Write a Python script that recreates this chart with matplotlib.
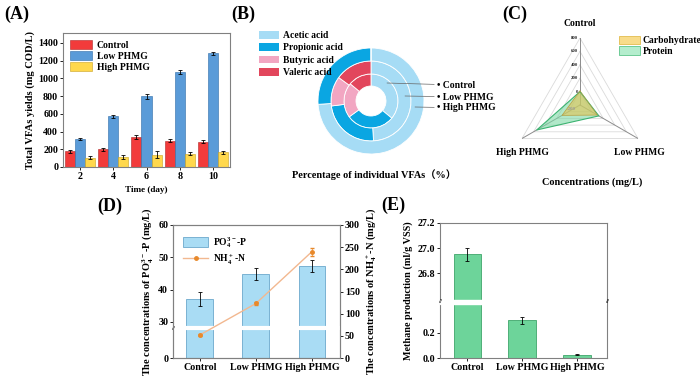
import numpy as np
import matplotlib.pyplot as plt
import matplotlib.transforms as mtransforms
from matplotlib.patches import Patch
from matplotlib.lines import Line2D

plt.rcParams['font.family'] = ['Liberation Serif', 'Noto Sans CJK SC']
plt.rcParams['font.weight'] = 'bold'
plt.rcParams['axes.labelweight'] = 'bold'
plt.rcParams['mathtext.default'] = 'regular'
plt.rcParams['font.size'] = 7

# (A) total VFAs
days = [2, 4, 6, 8, 10]
vfa_control = [175, 200, 335, 295, 285]
vfa_control_err = [15, 15, 25, 15, 20]
vfa_low = [320, 570, 795, 1070, 1280]
vfa_low_err = [12, 18, 30, 20, 20]
vfa_high = [105, 110, 140, 150, 165]
vfa_high_err = [15, 20, 35, 20, 15]

# (B) individual VFAs (%)
acids = ['Acetic acid', 'Propionic acid', 'Butyric acid', 'Valeric acid']
frac_control = [36, 29, 21, 14]
frac_low = [49, 24, 12, 15]
frac_high = [74, 26, 0, 0]
ring_names = ['Control', 'Low PHMG', 'High PHMG']

# (C) radar
radar_groups = ['Control', 'Low PHMG', 'High PHMG']
carbohydrate = [10, 100, 110]
protein = [0, 125, 545]
radar_levels = [0, 200, 400, 600, 800]

# (D)
groups = ['Control', 'Low PHMG', 'High PHMG']
po4 = [37, 44.8, 47.3]
po4_err = [2.2, 2, 2]
nh4 = [52, 123, 240]
nh4_err = [3, 4, 9]

# (E)
methane = [26.95, 0.30, 0.025]
methane_err = [0.05, 0.03, 0.005]

W, H = 700, 380
TICK = 7.2
LEG = 6.9
fig = plt.figure(figsize=(7, 3.8), dpi=100)


def rect(x0, y0, x1, y1):
    return [x0 / W, 1 - y1 / H, (x1 - x0) / W, (y1 - y0) / H]


def style(ax):
    for s in ax.spines.values():
        s.set_color('#808080')
        s.set_linewidth(0.8)
    ax.tick_params(direction='out', length=2, width=0.6, labelsize=TICK, pad=1.5)


ekw = dict(ecolor='black', elinewidth=0.6, capsize=1.5, capthick=0.6)

### (A)
ax = fig.add_axes(rect(63, 33, 230, 167))
x = np.array(days)
w = 0.6
ax.bar(x - w, vfa_control, w, yerr=vfa_control_err, color='#F23B3B', edgecolor='#B02828', lw=0.4, label='Control', error_kw=ekw)
ax.bar(x, vfa_low, w, yerr=vfa_low_err, color='#5A9BD8', edgecolor='#2E6BA8', lw=0.4, label='Low PHMG', error_kw=ekw)
ax.bar(x + w, vfa_high, w, yerr=vfa_high_err, color='#FFD84D', edgecolor='#C8A020', lw=0.4, label='High PHMG', error_kw=ekw)
ax.set_xlim(1, 11)
ax.set_ylim(0, 1510)
ax.set_xticks(days)
ax.set_yticks(range(0, 1401, 200))
ax.set_xlabel('Time (day)', labelpad=4, fontsize=6.6)
ax.set_ylabel('Total VFAs yields (mg COD/L)', labelpad=2, fontsize=7.6)
style(ax)
ax.legend(loc='upper left', frameon=False, fontsize=LEG, handlelength=2.3, handleheight=1.1,
          labelspacing=0.15, borderaxespad=0.3, handletextpad=0.5)

### (B)
acid_colors = ['#A6DCF5', '#0AA6E2', '#F2A6C2', '#E2465C']
axb = fig.add_axes(rect(311, 41, 431, 161))
for fr, r, wd in [(frac_control, 27, 12), (frac_low, 40, 13), (frac_high, 53, 13)]:
    axb.pie(fr, radius=r, colors=acid_colors, startangle=90, counterclock=False,
            wedgeprops=dict(width=wd, edgecolor='white', linewidth=0.6))
axb.set_xlim(-60, 60)
axb.set_ylim(-60, 60)
axb.set_aspect('equal')
axb.axis('off')
for name, start, yt in zip(ring_names, [(16, 18), (34, 5), (44, -6)], [16, 4, -7]):
    axb.annotate('\u2022 ' + name, xy=start, xytext=(66, yt), va='center', ha='left', fontsize=LEG,
                 annotation_clip=False,
                 arrowprops=dict(arrowstyle='-', color='#666666', lw=0.5, shrinkA=0, shrinkB=0))
fig.legend(handles=[Patch(facecolor=c, label=l) for c, l in zip(acid_colors, acids)],
           loc='upper left', bbox_to_anchor=(255 / W, 1 - 27 / H), frameon=False, fontsize=LEG,
           handlelength=2.1, handleheight=0.9, labelspacing=0.32, handletextpad=0.4, borderaxespad=0)
fig.text(374 / W, 1 - 175 / H, 'Percentage of individual VFAs（%）', ha='center', va='center', fontsize=7.4)

### (C)
axc = fig.add_axes(rect(513, 38, 647, 172), projection='polar')
theta = np.arange(3) * 2 * np.pi / 3
tc = np.append(theta, theta[0])
axc.set_theta_offset(np.pi / 2)
axc.set_theta_direction(-1)
axc.grid(False)
axc.spines['polar'].set_visible(False)
axc.set_xticks([])
axc.set_yticks([])
axc.patch.set_alpha(0)
for lev in radar_levels:
    axc.plot(tc, [lev] * 4, color='#DADADA', lw=0.6, zorder=1)
for t in theta:
    axc.plot([t, t], [-200, 800], color='#8C8C8C', lw=0.7, zorder=1)
axc.fill(tc, np.append(protein, protein[0]), facecolor='#7ED9A6', alpha=0.6, zorder=2)
axc.plot(tc, np.append(protein, protein[0]), color='#3CB371', lw=0.8, zorder=4)
axc.fill(tc, np.append(carbohydrate, carbohydrate[0]), facecolor='#E8C04A', alpha=0.55, zorder=3)
axc.plot(tc, np.append(carbohydrate, carbohydrate[0]), color='#B8A040', lw=0.5, zorder=4)
axc.set_ylim(-200, 800)
for lev in radar_levels:
    axc.annotate(str(lev), xy=(0, lev), xytext=(-1.5, 0), textcoords='offset points',
                 ha='right', va='center', fontsize=3.5, color='#333333')
axc.annotate('-200', xy=(0, -200), xytext=(-6, -3), textcoords='offset points',
             ha='center', va='center', fontsize=3.5, color='#999999')
offs = [(0, 7, 'center', 'bottom'), (1, -7, 'center', 'top'), (0.5, -7, 'center', 'top')]
for t, name, (dx, dy, ha, va) in zip(theta, radar_groups, offs):
    axc.annotate(name, xy=(t, 800), xytext=(dx, dy), textcoords='offset points',
                 ha=ha, va=va, fontsize=LEG, annotation_clip=False)
fig.legend(handles=[Patch(facecolor='#F8DC8A', edgecolor='#E3BC4E', lw=0.6, label='Carbohydrate'),
                    Patch(facecolor='#B4EDCD', edgecolor='#5CC48A', lw=0.6, label='Protein')],
           loc='upper left', bbox_to_anchor=(615 / W, 1 - 32 / H), frameon=False, fontsize=LEG,
           handlelength=2.2, handleheight=1.0, labelspacing=0.1, handletextpad=0.3, borderaxespad=0)
fig.text(592 / W, 1 - 182 / H, 'Concentrations (mg/L)', ha='center', va='center', fontsize=7.4)

### (D)
axd = fig.add_axes(rect(173, 225, 340, 358))
bd, kd = 28.0, 0.33


def fwd_d(y):
    y = np.asarray(y, dtype=float)
    return np.where(y < bd, y * kd, bd * kd + (y - bd))


def inv_d(u):
    u = np.asarray(u, dtype=float)
    return np.where(u < bd * kd, u / kd, u - bd * kd + bd)


axd.set_yscale('function', functions=(fwd_d, inv_d))
xd = np.arange(len(groups))
axd.bar(xd, po4, 0.48, yerr=po4_err, color='#A9DCF4', edgecolor='#6BA8CC', lw=0.6, error_kw=ekw)
axd.axhline(bd, color='white', lw=3, zorder=3)
axd.set_ylim(0, 60)
axd.set_yticks([0, 30, 40, 50, 60])
axd.set_xlim(-0.48, 2.5)
axd.set_xticks(xd)
axd.set_xticklabels(groups)
axd.set_ylabel('The concentrations of PO$_4^{3-}$-P (mg/L)', labelpad=2, fontsize=7.5)
style(axd)
axd.text(0, bd, '//', transform=mtransforms.blended_transform_factory(axd.transAxes, axd.transData),
         ha='center', va='center', fontsize=5, zorder=5)
ax2 = axd.twinx()
ax2.errorbar(xd, nh4, yerr=nh4_err, color='#F2B890', lw=1.0, marker='o', ms=2.5,
             mfc='#E8892B', mec='#E8892B', ecolor='#E8892B', elinewidth=0.5, capsize=1.5)
ax2.set_ylim(0, 300)
ax2.set_yticks(range(0, 301, 50))
ax2.set_ylabel('The concentrations of NH$_4^+$-N (mg/L)', labelpad=3, rotation=90, fontsize=7.5)
style(ax2)
ax2.legend(handles=[Patch(facecolor='#A9DCF4', edgecolor='#6BA8CC', lw=0.6, label='PO$_4^{3-}$-P'),
                    Line2D([], [], color='#F2B890', lw=1.0, marker='o', ms=2.5, mfc='#E8892B', mec='#E8892B',
                           label='NH$_4^+$-N')],
           loc='upper left', frameon=False, fontsize=LEG, handlelength=2.7, handleheight=1.3,
           labelspacing=0.3, borderaxespad=0.6, handletextpad=0.5)

### (E)
axe = fig.add_axes(rect(440, 223, 607, 358))
ea, ec, eps = 0.43, 26.59, 0.0013


def fwd_e(y):
    y = np.asarray(y, dtype=float)
    return np.where(y < ea, y, np.where(y < ec, ea + (y - ea) * eps, ea + (ec - ea) * eps + (y - ec)))


def inv_e(u):
    u = np.asarray(u, dtype=float)
    top = ea + (ec - ea) * eps
    return np.where(u < ea, u, np.where(u < top, ea + (u - ea) / eps, ec + (u - top)))


axe.set_yscale('function', functions=(fwd_e, inv_e))
xe = np.arange(len(groups))
axe.bar(xe, methane, 0.5, yerr=methane_err, color='#6DD49A', edgecolor='#3FA66A', lw=0.6, error_kw=ekw)
axe.axhspan(ea, ec, color='white', zorder=3)
axe.set_ylim(0, 27.2)
axe.set_yticks([0, 0.2, 26.8, 27.0, 27.2])
axe.set_yticklabels(['0.0', '0.2', '26.8', '27.0', '27.2'])
axe.set_xlim(-0.5, 2.55)
axe.set_xticks(xe)
axe.set_xticklabels(groups)
axe.set_ylabel('Methane production (ml/g VSS)', labelpad=3, fontsize=7.3)
style(axe)
for xs in [0, 1]:
    axe.text(xs, (ea + ec) / 2, '//', transform=mtransforms.blended_transform_factory(axe.transAxes, axe.transData),
             ha='center', va='center', fontsize=5, zorder=5)

# panel letters
for lab, px, py in [('(A)', 4, 14), ('(B)', 231, 14), ('(C)', 502, 14), ('(D)', 97, 206), ('(E)', 381, 205)]:
    fig.text(px / W, 1 - py / H, lab, ha='left', va='center', fontsize=13)

fig.savefig('out.png', dpi=100)
